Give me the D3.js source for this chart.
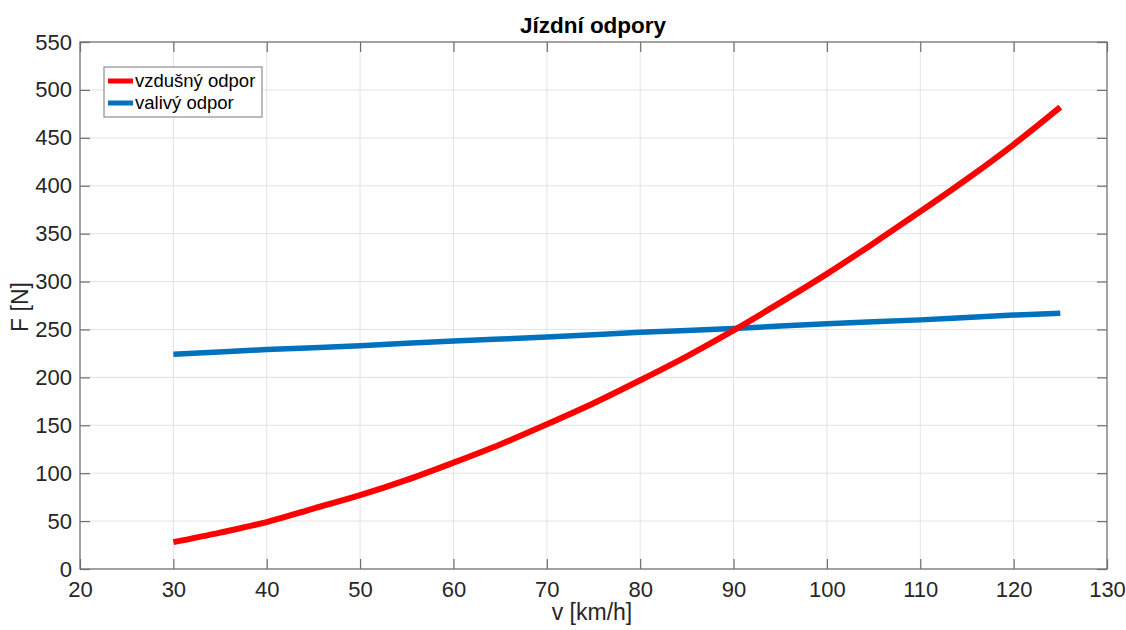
<!DOCTYPE html>
<html>
<head>
<meta charset="utf-8">
<script src="https://cdn.jsdelivr.net/npm/d3@7"></script>
<style>
  body { margin: 0; background: #fff; }
  text { font-family: "Liberation Sans", Arial, sans-serif; }
</style>
</head>
<body>
<div id="chart"></div>
<script>
// rychlost [km/h]
var speedAir = [30, 35, 40, 45, 50, 55, 60, 65, 70, 75, 80, 85, 90, 95, 100, 105, 110, 115, 120, 125];
var airDrag  = [28, 38, 49, 63, 77, 93, 111, 130, 151, 173, 197, 222, 249, 278, 308, 340, 373, 407, 443, 482];
var speedRoll = [30, 40, 50, 60, 70, 80, 90, 100, 110, 120, 125];
var rollDrag  = [224, 229, 233, 238, 242, 247, 251, 256, 260, 265, 267];

var xTicks = [20, 30, 40, 50, 60, 70, 80, 90, 100, 110, 120, 130];
var yTicks = [0, 50, 100, 150, 200, 250, 300, 350, 400, 450, 500, 550];
var seriesNames = ["vzdušný odpor", "valivý odpor"];

var W = 1126, H = 630;
var margin = {top: 42, right: 19, bottom: 61, left: 80},
    width = W - margin.left - margin.right,
    height = H - margin.top - margin.bottom;

var svg = d3.select("#chart").append("svg")
    .attr("width", W)
    .attr("height", H);

var g = svg.append("g")
    .attr("transform", "translate(" + margin.left + "," + margin.top + ")");

var x = d3.scaleLinear().domain([20, 130]).range([0, width]);
var y = d3.scaleLinear().domain([0, 550]).range([height, 0]);

// mrizka
g.append("g").selectAll("line").data(xTicks).enter().append("line")
    .attr("x1", d => x(d)).attr("x2", d => x(d))
    .attr("y1", 0).attr("y2", height)
    .attr("stroke", "#e3e3e3").attr("stroke-width", 1);
g.append("g").selectAll("line").data(yTicks).enter().append("line")
    .attr("x1", 0).attr("x2", width)
    .attr("y1", d => y(d)).attr("y2", d => y(d))
    .attr("stroke", "#e3e3e3").attr("stroke-width", 1);

var axisColor = "#6e6e6e", textColor = "#262626";

function styleAxis(sel, showText) {
  sel.select(".domain").remove();
  sel.selectAll(".tick line").attr("stroke", axisColor).attr("stroke-width", 1.2);
  sel.selectAll(".tick text")
      .attr("fill", textColor)
      .style("font-size", "22px")
      .style("display", showText ? null : "none");
}

g.append("g").attr("transform", "translate(0," + height + ")")
    .call(d3.axisBottom(x).tickValues(xTicks).tickSizeInner(-10).tickPadding(12))
    .call(s => styleAxis(s, true));
g.append("g")
    .call(d3.axisTop(x).tickValues(xTicks).tickSizeInner(-10))
    .call(s => styleAxis(s, false));
g.append("g")
    .call(d3.axisLeft(y).tickValues(yTicks).tickSizeInner(-10).tickPadding(8))
    .call(s => styleAxis(s, true));
g.append("g").attr("transform", "translate(" + width + ",0)")
    .call(d3.axisRight(y).tickValues(yTicks).tickSizeInner(-10))
    .call(s => styleAxis(s, false));

g.append("rect")
    .attr("width", width).attr("height", height)
    .attr("fill", "none").attr("stroke", axisColor).attr("stroke-width", 1.2);

var line = d3.line().x(d => x(d[0])).y(d => y(d[1])).curve(d3.curveCatmullRom);

g.append("path")
    .datum(d3.zip(speedRoll, rollDrag))
    .attr("fill", "none").attr("stroke", "#0072BD").attr("stroke-width", 5.5)
    .attr("d", line);
g.append("path")
    .datum(d3.zip(speedAir, airDrag))
    .attr("fill", "none").attr("stroke", "#ff0000").attr("stroke-width", 6)
    .attr("d", line);

// popisky
svg.append("text")
    .attr("x", 593).attr("y", 33)
    .attr("text-anchor", "middle")
    .attr("fill", "#000")
    .style("font-size", "22.5px").style("font-weight", "bold")
    .text("Jízdní odpory");

svg.append("text")
    .attr("x", 592).attr("y", 620)
    .attr("text-anchor", "middle")
    .attr("fill", textColor)
    .style("font-size", "23px")
    .text("v [km/h]");

svg.append("text")
    .attr("transform", "translate(28,307) rotate(-90)")
    .attr("text-anchor", "middle")
    .attr("fill", textColor)
    .style("font-size", "23px")
    .text("F [N]");

// legenda
var legend = svg.append("g").attr("transform", "translate(104,67)");
legend.append("rect")
    .attr("width", 158).attr("height", 50)
    .attr("fill", "#fff").attr("stroke", "#777").attr("stroke-width", 1);
var colors = ["#ff0000", "#0072BD"];
seriesNames.forEach(function(name, i) {
  var yy = 14 + i * 22;
  legend.append("line")
      .attr("x1", 4).attr("x2", 29)
      .attr("y1", yy).attr("y2", yy)
      .attr("stroke", colors[i]).attr("stroke-width", 5);
  legend.append("text")
      .attr("x", 31).attr("y", yy + 6)
      .attr("fill", "#000")
      .style("font-size", "18.5px")
      .text(name);
});
</script>
</body>
</html>
